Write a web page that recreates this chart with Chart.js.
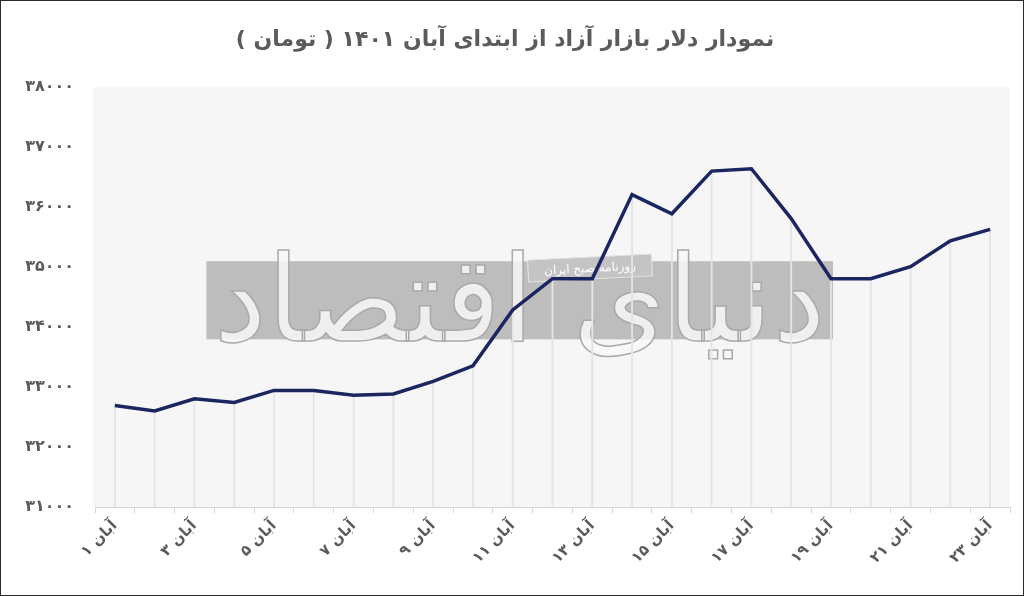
<!DOCTYPE html>
<html>
<head>
<meta charset="utf-8">
<script src="https://cdn.jsdelivr.net/npm/chart.js@4.4.1/dist/chart.umd.min.js"></script>
<style>
  html, body { margin: 0; padding: 0; background: #fff; }
  #wrap { width: 1024px; height: 596px; position: relative; }
  canvas { display: block; }
</style>
</head>
<body>
<div id="wrap"><canvas id="c" width="1024" height="596"></canvas></div>
<script>
// ---- data ----
const days = [1,2,3,4,5,6,7,8,9,10,11,12,13,14,15,16,17,18,19,20,21,22,23];
const dollarPrice = [32690,32600,32800,32740,32940,32940,32860,32880,33090,33350,34280,34800,34800,36200,35880,36590,36630,35800,34800,34800,35000,35430,35620];
const yTicks = [31000,32000,33000,34000,35000,36000,37000,38000];
const titleText = 'نمودار دلار بازار آزاد از ابتدای آبان ۱۴۰۱ ( تومان )';
const monthName = 'آبان';

const faDigits = ['۰','۱','۲','۳','۴','۵','۶','۷','۸','۹'];
const toFa = n => String(n).replace(/[0-9]/g, d => faDigits[+d]);
const labels = days.map(d => monthName + ' ' + toFa(d));

const FONT = '"DejaVu Sans", "Noto Sans", sans-serif';
const TXT = '#5b5b5b';

const bgPlugin = {
  id: 'bg',
  beforeDraw(chart) {
    const {ctx, chartArea: a} = chart;
    ctx.save();
    ctx.fillStyle = '#f6f6f7';
    ctx.fillRect(a.left - 2, a.top + 1, a.right - a.left + 2, a.bottom - a.top - 1);
    ctx.restore();
  },
  beforeDatasetsDraw(chart) {
    const {ctx} = chart;
    const x = chart.scales.x, y = chart.scales.y;
    const left = x.getPixelForValue(2) + 12;
    const right = x.getPixelForValue(18) + 2;
    const top = y.getPixelForValue(35090);
    const bottom = y.getPixelForValue(33790);
    ctx.save();
    ctx.fillStyle = '#bdbdbd';
    ctx.fillRect(left, top, right - left, bottom - top);
    ctx.font = '120px ' + FONT;
    ctx.textAlign = 'center';
    ctx.textBaseline = 'middle';
    ctx.direction = 'rtl';
    ctx.lineWidth = 1.5;
    ctx.strokeStyle = '#a9a9a9';
    ctx.fillStyle = 'rgba(248,248,248,0.85)';
    const cx = (left + right) / 2, cy = (top + bottom) / 2 + 10;
    ctx.fillText('دنیای اقتصاد', cx, cy);
    ctx.strokeText('دنیای اقتصاد', cx, cy);
    ctx.translate(590, 268);
    ctx.rotate(-0.05);
    ctx.fillStyle = '#c4c4c4';
    ctx.fillRect(-62, -11, 124, 22);
    ctx.strokeStyle = '#e6e6e6';
    ctx.lineWidth = 1;
    ctx.strokeRect(-62, -11, 124, 22);
    ctx.font = '12px ' + FONT;
    ctx.fillStyle = '#ffffff';
    ctx.fillText('روزنامه صبح ایران', 0, 1);
    ctx.restore();
  },
  afterDraw(chart) {
    const {ctx, width, height} = chart;
    ctx.save();
    ctx.strokeStyle = '#2a2a2a';
    ctx.lineWidth = 2;
    ctx.strokeRect(0, 0, width, height);
    ctx.restore();
  }
};

new Chart(document.getElementById('c'), {
  data: {
    labels: labels,
    datasets: [
      {
        type: 'line',
        data: dollarPrice,
        borderColor: '#1b2560',
        borderWidth: 3.5,
        pointRadius: 0,
        tension: 0,
        order: 0
      },
      {
        type: 'bar',
        data: dollarPrice,
        backgroundColor: '#e4e4e6',
        barThickness: 1.2,
        order: 1
      }
    ]
  },
  options: {
    responsive: false,
    animation: false,
    devicePixelRatio: 1,
    layout: { padding: { left: 0, right: 14, top: 0, bottom: 0 } },
    plugins: {
      legend: { display: false },
      tooltip: { enabled: false },
      title: {
        display: true,
        text: titleText,
        color: TXT,
        font: { family: FONT, size: 22, weight: 'bold', lineHeight: 1.2 },
        padding: { top: 27, bottom: 33 }
      }
    },
    scales: {
      x: {
        offset: true,
        grid: { offset: true, drawOnChartArea: false, drawTicks: true, tickLength: 6, color: '#d6d6d6' },
        border: { display: true, color: '#d6d6d6', width: 1 },
        ticks: {
          autoSkip: false,
          maxRotation: 45,
          minRotation: 45,
          padding: 4,
          color: TXT,
          font: { family: FONT, size: 15, weight: 'bold' },
          callback: (v, i) => (i % 2 === 0 ? labels[i] : '')
        },
        afterFit: s => { s.height = 89; }
      },
      y: {
        min: yTicks[0],
        max: yTicks[yTicks.length - 1],
        afterBuildTicks: s => { s.ticks = yTicks.map(v => ({ value: v })); },
        grid: { display: false },
        border: { display: false },
        ticks: {
          padding: 13,
          color: TXT,
          font: { family: FONT, size: 16, weight: 'bold' },
          callback: v => toFa(v)
        },
        afterFit: s => { s.width = 95; }
      }
    }
  },
  plugins: [bgPlugin]
});
</script>
</body>
</html>
